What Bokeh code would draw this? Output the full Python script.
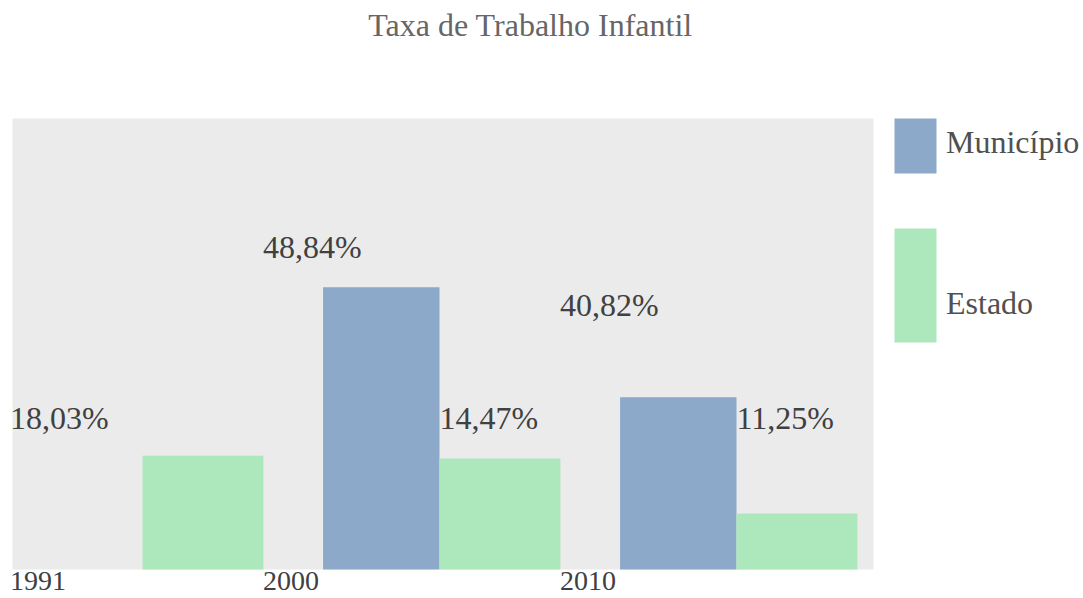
from bokeh.plotting import figure
from bokeh.models import ColumnDataSource, Range1d
from bokeh.core.properties import value
from bokeh.embed import file_html
from bokeh.resources import INLINE

# ---------------- data ----------------
years = ["1991", "2000", "2010"]
title_text = "Taxa de Trabalho Infantil"
series_names = ["Município", "Estado"]
# printed values of each series
municipio_labels = ["18,03%", "48,84%", "40,82%"]
estado_labels = ["", "14,47%", "11,25%"]
# bar heights as drawn, in plot units (plot area spans 0..50)
municipio_bar = [0.0, 31.3, 19.1]
estado_bar = [12.6, 12.3, 6.2]

# ---------------- layout / style ----------------
W, H = 1083, 598
CAT0_PX = 142.0      # canvas x of first category boundary
CAT_STEP_PX = 297.0  # pixels per category
Y0_PX = 569.0        # canvas y of value 0
Y_UNIT_PX = 9.02     # pixels per plot unit
BASE_FIX = 13.0      # renderer places alphabetic baseline this much lower (32px)

def sx(px):
    return (px - CAT0_PX) / CAT_STEP_PX

def sy(py):
    return (Y0_PX - py) / Y_UNIT_PX

def sb(py, size=32.0):  # text baseline position
    return sy(py - BASE_FIX * size / 32.0)

BLUE = "#8ca9c9"
GREEN = "#ace8bc"
BG = "#ebebeb"
FONT = "'Liberation Serif', 'Times New Roman', serif"
BLUE_W = 0.392
GREEN_W = 0.407
LABEL_SHIFT = 0.5943   # municipio labels / tick labels start left of the category
LEFT_CLAMP = sx(9.5)

p = figure(width=W, height=H, output_backend="svg", toolbar_location=None,
           x_range=Range1d(sx(0), sx(W)), y_range=Range1d(sy(H), sy(0)),
           min_border=0, outline_line_color=None)
p.axis.visible = False
p.grid.visible = False
p.background_fill_color = "white"
p.border_fill_color = "white"

# plot area background
p.quad(left=[sx(12)], right=[sx(873)], bottom=[0], top=[50],
       fill_color=BG, line_color=None)

idx = list(range(len(years)))
src = ColumnDataSource(dict(
    m_left=[i - BLUE_W for i in idx], m_right=idx, m_top=municipio_bar,
    e_left=idx, e_right=[i + GREEN_W for i in idx], e_top=estado_bar,
))
p.quad(left="m_left", right="m_right", bottom=0, top="m_top", source=src,
       fill_color=BLUE, line_color=None)
p.quad(left="e_left", right="e_right", bottom=0, top="e_top", source=src,
       fill_color=GREEN, line_color=None)

# value labels
m_label_y = [sb(430), sb(259), sb(317)]
e_label_y = [sb(430), sb(430), sb(430)]
mx = [max(i - LABEL_SHIFT, LEFT_CLAMP) for i in idx]
p.text(x=mx, y=m_label_y, text=municipio_labels,
       text_font=value(FONT), text_font_size="32px", text_color="#404040",
       text_align="left", text_baseline="alphabetic")
p.text(x=idx, y=e_label_y, text=estado_labels,
       text_font=value(FONT), text_font_size="32px", text_color="#404040",
       text_align="left", text_baseline="alphabetic")

# category tick labels (kept just inside the bottom edge)
p.text(x=mx, y=[sb(592, 28)] * len(years), text=years,
       text_font=value(FONT), text_font_size="28px", text_color="#404040",
       text_align="left", text_baseline="alphabetic")

# title
p.text(x=[sx(530)], y=[sb(37)], text=[title_text],
       text_font=value(FONT), text_font_size="32px", text_color="#666666",
       text_align="center", text_baseline="alphabetic")

# legend
p.quad(left=[sx(894), sx(894)], right=[sx(936), sx(936)],
       top=[sy(118), sy(228)], bottom=[sy(173), sy(342)],
       fill_color=[BLUE, GREEN], line_color=None)
p.text(x=[sx(945.5), sx(945.5)], y=[sb(154), sb(315)], text=series_names,
       text_font=value(FONT), text_font_size="32px", text_color="#505050",
       text_align="left", text_baseline="alphabetic")

open("out.html", "w").write(file_html(p, INLINE))
